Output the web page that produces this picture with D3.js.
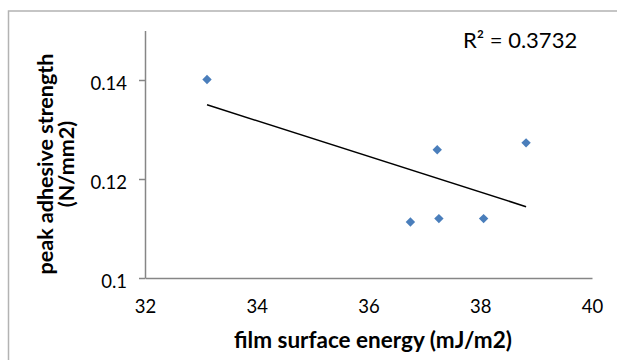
<!DOCTYPE html>
<html>
<head>
<meta charset="utf-8">
<script src="https://cdn.jsdelivr.net/npm/d3@7"></script>
<style>
  body { margin: 0; background: #fff; }
  text { font-family: Lato, "Open Sans", sans-serif; }
</style>
</head>
<body>
<div id="wrapper"></div>
<script>
/// Data ///
const surfaceEnergy = [33.11, 36.75, 37.23, 37.26, 38.06, 38.82];
const adhesiveStrength = [0.1401, 0.1113, 0.1259, 0.1120, 0.1120, 0.1273];
const xTicks = [32, 34, 36, 38, 40];
const yTicks = [0.1, 0.12, 0.14];
const xTitle = "film surface energy (mJ/m2)";
const yTitleLines = ["peak adhesive strength", "(N/mm2)"];
const rSquaredLabel = "R\u00b2 = 0.3732";

/// Dimensions ///
const width = 617;
const height = 360;
const plot = { left: 145, right: 592, top: 30.5, bottom: 278 };
const axisColour = '#868686';
const markerColour = '#4a7ebb';

const svg = d3.select("#wrapper").append("svg")
  .attr("width", width)
  .attr("height", height)

// chart border
svg.append("rect")
  .attr("x", 8.5).attr("y", 11)
  .attr("width", 700).attr("height", 400)
  .attr("fill", "none")
  .attr("stroke", "#b3b3b3")
  .attr("stroke-width", 1.5)

/// Scales ///
const x = d3.scaleLinear()
  .domain([32, 40])
  .range([plot.left, plot.right])
const y = d3.scaleLinear()
  .domain([0.1, 0.15])
  .range([plot.bottom, plot.top])

/// Axes ///
const yAxis = svg.append('g')
  .attr("transform", `translate(${plot.left}, 0)`)
  .call(d3.axisLeft(y).tickValues(yTicks).tickSize(6).tickSizeOuter(0).tickPadding(12).tickFormat(d => d))
yAxis.selectAll("text").attr("font-size", 18.5).attr("fill", "#000").attr("dy", "0.5em")

const xAxis = svg.append('g')
  .attr("transform", `translate(0, ${plot.bottom})`)
  .call(d3.axisBottom(x).tickValues(xTicks).tickSize(0).tickSizeOuter(0).tickPadding(22))
xAxis.selectAll("text").attr("font-size", 18.5).attr("fill", "#000")

svg.selectAll(".domain, .tick line")
  .attr("stroke", axisColour)
  .attr("stroke-width", 1.5)
svg.selectAll(".tick text").attr("font-family", "Lato, sans-serif")

/// Trendline (least squares fit) ///
const points = surfaceEnergy.map((v, i) => [v, adhesiveStrength[i]]);
const mx = d3.mean(surfaceEnergy), my = d3.mean(adhesiveStrength);
const slope = d3.sum(points, p => (p[0] - mx) * (p[1] - my)) / d3.sum(points, p => (p[0] - mx) ** 2);
const fit = v => my + slope * (v - mx);
const [x0, x1] = d3.extent(surfaceEnergy);

svg.append("line")
  .attr("x1", x(x0)).attr("y1", y(fit(x0)))
  .attr("x2", x(x1)).attr("y2", y(fit(x1)))
  .attr("stroke", "#000")
  .attr("stroke-width", 1.5)

/// Markers ///
svg.selectAll(".marker")
  .data(points)
  .join("path")
    .attr("class", "marker")
    .attr("d", d3.symbol(d3.symbolSquare, 44))
    .attr("transform", d => `translate(${x(d[0])}, ${y(d[1])}) rotate(45)`)
    .attr("fill", markerColour)

/// Labels ///
svg.append("text")
  .attr("x", 463).attr("y", 48)
  .attr("font-size", 22)
  .text(rSquaredLabel)

svg.append("text")
  .attr("x", 373).attr("y", 348)
  .attr("text-anchor", "middle")
  .attr("font-size", 22.5)
  .attr("font-weight", "bold")
  .text(xTitle)

svg.append("g")
  .attr("transform", "translate(0, 164) rotate(-90)")
  .selectAll("text")
  .data(yTitleLines)
  .join("text")
    .attr("x", 0)
    .attr("y", (d, i) => 53 + i * 21)
    .attr("text-anchor", "middle")
    .attr("font-size", 21.5)
    .attr("font-weight", "bold")
    .text(d => d)
</script>
</body>
</html>
